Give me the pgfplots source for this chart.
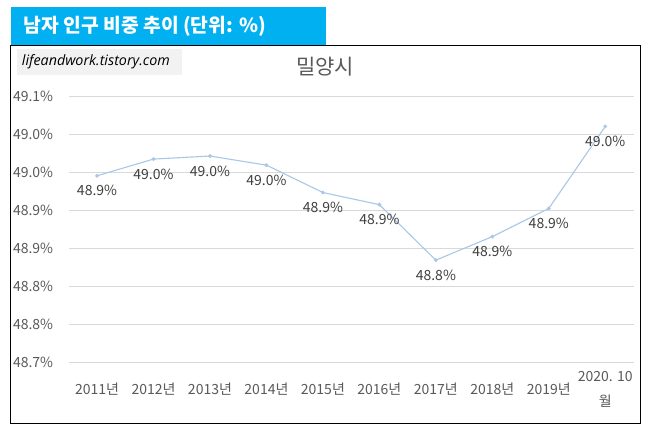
\documentclass[border=0pt]{standalone}
\usepackage{fontspec}
\setmainfont{Noto Sans CJK KR}
\newfontfamily\wmfont{Open Sans}
\usepackage{pgfplots}
\pgfplotsset{compat=1.18}
\definecolor{hdr}{HTML}{00B0F0}
\definecolor{ln}{HTML}{A9C8E8}
\definecolor{grd}{HTML}{D9D9D9}
\definecolor{txt}{HTML}{595959}
\definecolor{dl}{HTML}{404040}
\definecolor{wmbg}{HTML}{F2F2F2}
\newcommand\tfont{\fontsize{14}{16}\selectfont}
\begin{document}
\begin{tikzpicture}
\path[use as bounding box] (0,0) rectangle (646pt,434pt);
\fill[white] (0,0) rectangle (646pt,434pt);
% header box
\fill[hdr] (11pt,388.3pt) rectangle (325.7pt,426.7pt);
\node[anchor=west, inner sep=0pt, text=white, font=\fontsize{19.3}{22}\selectfont\bfseries] at (23.3pt,407.3pt) {남자 인구 비중 추이 (단위: \%)};
% chart border
\draw[black, line width=1pt] (10.7pt,10.5pt) rectangle (640pt,388.3pt);
% watermark
\fill[wmbg] (16.7pt,359.3pt) rectangle (181.7pt,384.7pt);
\node[anchor=west, inner sep=0pt, text=black, font=\wmfont\itshape\fontsize{14.3}{16}\selectfont] at (21.7pt,372pt) {lifeandwork.tistory.com};
% title
\node[text=txt, inner sep=0pt, font=\fontsize{21}{24}\selectfont] at (325pt,367pt) {밀양시};
\begin{axis}[
  at={(68.8pt,72pt)}, anchor=south west,
  scale only axis, width=564.7pt, height=266pt,
  xmin=-0.5, xmax=9.5, ymin=48.70, ymax=49.05,
  axis line style={draw=none}, major tick style={draw=none},
  ymajorgrids, grid style={grd, line width=0.8pt},
  ytick={48.70,48.75,48.80,48.85,48.90,48.95,49.00,49.05},
  yticklabels={48.7\%,48.8\%,48.8\%,48.9\%,48.9\%,49.0\%,49.0\%,49.1\%},
  xtick={0,1,2,3,4,5,6,7,8,9},
  xticklabels={2011년,2012년,2013년,2014년,2015년,2016년,2017년,2018년,2019년,{2020. 10\\[9pt]월}},
  yticklabel style={anchor=east, inner sep=0pt, xshift=-15.5pt, font=\tfont, text=txt},
  xticklabel style={anchor=center, inner sep=0pt, yshift=-27pt, align=center, font=\tfont, text=txt},
  clip=false,
]
\addplot[ln, line width=1.1pt, mark=*, mark size=1.3pt, mark options={fill=ln, draw=ln},
  point meta=explicit symbolic,
  nodes near coords={\pgfplotspointmeta\%},
  every node near coord/.style={anchor=center, inner sep=0pt, yshift=-15pt, font=\tfont, text=dl}]
  table[meta=lab] {
x y lab
0 48.945 48.9
1 48.967 49.0
2 48.971 49.0
3 48.959 49.0
4 48.923 48.9
5 48.907 48.9
6 48.834 48.8
7 48.865 48.9
8 48.902 48.9
9 49.010 49.0
};
\end{axis}
\end{tikzpicture}
\end{document}
